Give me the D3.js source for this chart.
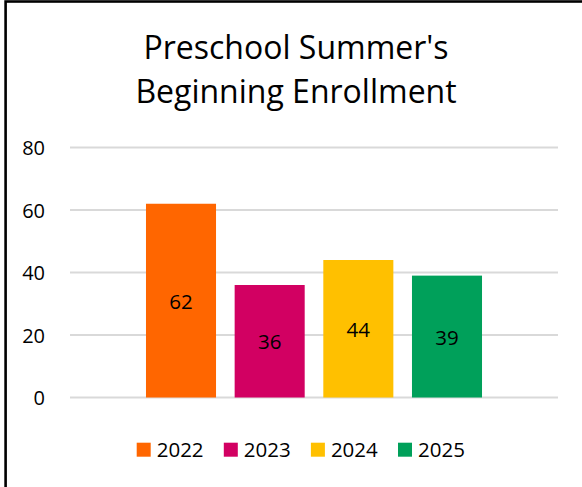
<!DOCTYPE html>
<html>
<head>
<meta charset="utf-8">
<script src="https://cdn.jsdelivr.net/npm/d3@7"></script>
<style>
  body { margin: 0; background: #fff; }
  svg { display: block; font-family: "Open Sans", "Noto Sans", sans-serif; }
</style>
</head>
<body>
<div id="chart"></div>
<script>
// chart data
var years = ["2022", "2023", "2024", "2025"];
var enrollment = [62, 36, 44, 39];
var yearColors = ["#FF6600", "#D20062", "#FFC000", "#00A05A"];
var yTicks = [0, 20, 40, 60, 80];
var titleLines = ["Preschool Summer's", "Beginning Enrollment"];

var width = 582, height = 487;

var svg = d3.select('#chart')
    .append('svg')
    .attr('width', width)
    .attr('height', height);

svg.append('rect')
    .attr('width', width)
    .attr('height', height)
    .attr('fill', '#fff');

// chart frame (right and bottom edges fall outside the picture)
svg.append('rect')
    .attr('x', 5.6)
    .attr('y', 1.5)
    .attr('width', 620)
    .attr('height', 620)
    .attr('fill', 'none')
    .attr('stroke', '#000')
    .attr('stroke-width', 2.6);

// title
svg.selectAll('.title')
    .data(titleLines)
    .enter().append('text')
    .attr('class', 'title')
    .attr('x', 296)
    .attr('y', (d, i) => 59 + i * 44)
    .attr('text-anchor', 'middle')
    .attr('font-size', 32)
    .attr('fill', '#000')
    .text(d => d);

var plot = { left: 70, right: 558, top: 147.5, bottom: 397.5 };

var y = d3.scaleLinear()
    .domain([0, 80])
    .range([plot.bottom, plot.top]);

var x = d3.scaleBand()
    .domain(years)
    .range([plot.left, plot.right])
    .paddingInner(0.21)
    .paddingOuter(0.857);

// gridlines
svg.append('g')
    .selectAll('line')
    .data(yTicks)
    .enter().append('line')
    .attr('x1', plot.left)
    .attr('x2', plot.right)
    .attr('y1', d => y(d))
    .attr('y2', d => y(d))
    .attr('stroke', '#D9D9D9')
    .attr('stroke-width', 1.8);

// y axis labels
var yAxis = svg.append('g')
    .attr('transform', 'translate(' + (plot.left - 25) + ',0)')
    .call(d3.axisLeft(y).tickValues(yTicks).tickSize(0).tickPadding(0));
yAxis.select('.domain').remove();
yAxis.selectAll('text')
    .attr('font-family', '"Open Sans", "Noto Sans", sans-serif')
    .attr('font-size', 20)
    .attr('fill', '#000')
    .attr('dy', '0.36em');

// bars
var rows = years.map((d, i) => ({ year: d, value: enrollment[i], color: yearColors[i] }));

svg.append('g')
    .selectAll('rect')
    .data(rows)
    .enter().append('rect')
    .attr('x', d => x(d.year))
    .attr('y', d => y(d.value))
    .attr('width', x.bandwidth())
    .attr('height', d => y(0) - y(d.value))
    .attr('fill', d => d.color);

// value labels, centred in the bars
svg.append('g')
    .selectAll('text')
    .data(rows)
    .enter().append('text')
    .attr('x', d => x(d.year) + x.bandwidth() / 2)
    .attr('y', d => (y(d.value) + y(0)) / 2 + 8)
    .attr('text-anchor', 'middle')
    .attr('font-size', 20.5)
    .attr('fill', '#000')
    .text(d => d.value);

// legend
var legend = svg.append('g')
    .selectAll('g')
    .data(rows)
    .enter().append('g')
    .attr('transform', (d, i) => 'translate(' + (136.7 + i * 87.1) + ',442.7)');

legend.append('rect')
    .attr('width', 14)
    .attr('height', 14)
    .attr('fill', d => d.color);

legend.append('text')
    .attr('x', 20)
    .attr('y', 14)
    .attr('font-size', 20.5)
    .attr('fill', '#000')
    .text(d => d.year);
</script>
</body>
</html>
